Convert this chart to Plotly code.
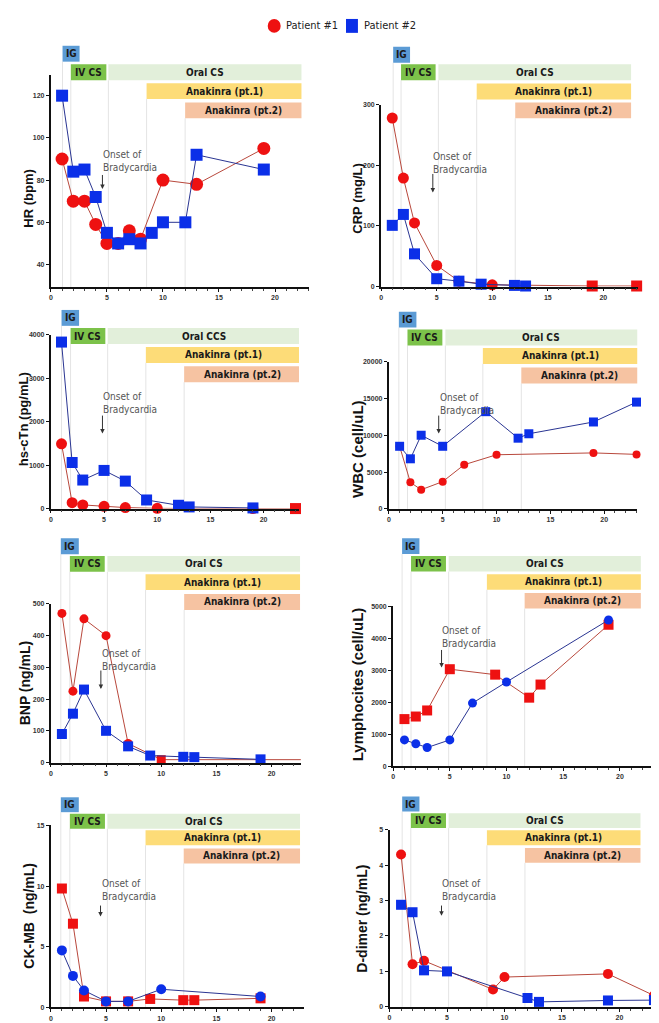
import plotly.graph_objects as go

W, H = 659, 1023

# ---------------- data ----------------
hr_p1_x = [1, 2, 3, 4, 5, 6, 7, 8, 10, 13, 19]
hr_p1_y = [90, 70, 70, 59, 50, 50, 56, 52, 80, 78, 95]
hr_p2_x = [1, 2, 3, 4, 5, 6, 7, 8, 9, 10, 12, 13, 19]
hr_p2_y = [120, 84, 85, 72, 55, 50, 52, 50, 55, 60, 60, 92, 85]

crp_p1_x = [1, 2, 3, 5, 7, 10, 19, 23]
crp_p1_y = [278, 179, 105, 35, 9, 3, 1, 1]
crp_p2_x = [1, 2, 3, 5, 7, 9, 12, 13]
crp_p2_y = [101, 119, 54, 13, 9, 4, 2, 1]

ctn_p1_x = [1, 2, 3, 5, 7, 10, 19, 23]
ctn_p1_y = [1490, 137, 84, 53, 23, 5, 2, 0]
ctn_p2_x = [1, 2, 3, 5, 7, 9, 12, 13, 19]
ctn_p2_y = [3832, 1061, 657, 878, 632, 198, 76, 38, 15]

wbc_p1_x = [1, 2, 3, 5, 7, 10, 19, 23]
wbc_p1_y = [8500, 3600, 2600, 3700, 6000, 7350, 7600, 7400]
wbc_p2_x = [1, 2, 3, 5, 9, 12, 13, 19, 23]
wbc_p2_y = [8500, 6800, 10000, 8500, 13200, 9600, 10200, 11800, 14500]

bnp_p1_x = [1, 2, 3, 5, 7, 10, 23]
bnp_p1_y = [470, 225, 453, 400, 60, 9, 9]
bnp_p2_x = [1, 2, 3, 5, 7, 9, 12, 13, 19]
bnp_p2_y = [90, 154, 230, 100, 51, 22, 18, 17, 10]

lym_p1_x = [1, 2, 3, 5, 9, 12, 13, 19]
lym_p1_y = [1470, 1550, 1740, 3030, 2860, 2140, 2550, 4420]
lym_p2_x = [1, 2, 3, 5, 7, 10, 19]
lym_p2_y = [820, 700, 580, 820, 1970, 2630, 4570]

ckmb_p1_x = [1, 2, 3, 5, 7, 9, 12, 13, 19]
ckmb_p1_y = [9.8, 6.9, 0.9, 0.5, 0.5, 0.7, 0.6, 0.6, 0.75]
ckmb_p2_x = [1, 2, 3, 5, 7, 10, 19]
ckmb_p2_y = [4.7, 2.6, 1.4, 0.5, 0.5, 1.5, 0.9]

dd_p1_x = [1, 2, 3, 9, 10, 19, 23]
dd_p1_y = [4.3, 1.2, 1.3, 0.49, 0.84, 0.93, 0.32]
dd_p2_x = [1, 2, 3, 5, 12, 13, 19, 23]
dd_p2_y = [2.88, 2.67, 1.03, 1.0, 0.25, 0.14, 0.18, 0.19]

treatments = ["IG", "IV CS", "Oral CS", "Anakinra (pt.1)", "Anakinra (pt.2)"]
series_names = ["Patient #1", "Patient #2"]
x_ticks = [0, 5, 10, 15, 20]

# ---------------- styles ----------------
RED = "#ee1111"
BLUE = "#0b2fe8"
RED_LINE = "#b8483c"
BLUE_LINE = "#2a3592"
box_colors = ["#5b9bd5", "#7cc24a", "#e2efda", "#fddc78", "#f6c3a2"]
LAB_FONT = "DejaVu Sans Condensed, Liberation Sans Narrow, Roboto, sans-serif"

panels = [
    dict(title="HR (bpm)", p1=(hr_p1_x, hr_p1_y), p2=(hr_p2_x, hr_p2_y),
         s1="circle", s2="square", ms1=13, ms2=12,
         px=(41, 300), xr=(0, 23.04), py=(63, 277), yr=(29.3, 130),
         yt=[40, 60, 80, 100, 120], ylab="Oral CS",
         box_x=[(1.04, 2.56), (1.78, 4.95), (5.13, 22.36), (8.54, 22.36), (11.98, 22.36)],
         box_py=[34, 52.7, 71.7, 91], box_h=16,
         onset=(4.51, 136, 4.6, 162.7, 178.3), tpos=(19, 187), tsize=13),
    dict(title="CRP (mg/L)", p1=(crp_p1_x, crp_p1_y), p2=(crp_p2_x, crp_p2_y),
         s1=["circle"] * 6 + ["square"] * 2, s2="square", ms1=11, ms2=11,
         px=(372.3, 630), xr=(0, 23.13), py=(93.3, 276.5), yr=(0, 300),
         yt=[0, 100, 200, 300], ylab="Oral CS",
         box_x=[(1.08, 2.6), (1.79, 4.9), (5.15, 22.5), (8.6, 22.5), (12.07, 22.5)],
         box_py=[35, 52.7, 72, 91], box_h=16,
         onset=(4.52, 138, 4.65, 161.7, 181.7), tpos=(349, 187), tsize=13),
    dict(title="hs-cTn (pg/mL)", p1=(ctn_p1_x, ctn_p1_y), p2=(ctn_p2_x, ctn_p2_y),
         s1=["circle"] * 7 + ["square"], s2="square", ms1=11, ms2=11,
         px=(41, 290), xr=(0, 23.34), py=(325, 500), yr=(0, 4000),
         yt=[0, 1000, 2000, 3000, 4000], ylab="Oral CCS",
         box_x=[(1.0, 2.65), (1.85, 5.12), (5.34, 23.5), (8.93, 23.5), (12.53, 23.5)],
         box_py=[300, 318.3, 337.3, 356.7], box_h=16,
         onset=(4.75, 380, 4.85, 405, 424.3), tpos=(13, 410), tsize=13),
    dict(title="WBC (cell/uL)", p1=(wbc_p1_x, wbc_p1_y), p2=(wbc_p2_x, wbc_p2_y),
         s1="circle", s2="square", ms1=8, ms2=9,
         px=(380, 629.3), xr=(0, 23.08), py=(352, 500.3), yr=(0, 20000),
         yt=[0, 5000, 10000, 15000, 20000], ylab="Oral CS",
         box_x=[(0.93, 2.56), (1.73, 4.97), (5.25, 23.1), (8.73, 23.1), (12.3, 23.1)],
         box_py=[301.7, 319.7, 338.3, 358], box_h=16,
         onset=(4.56, 380.5, 4.63, 405, 424.3), tpos=(349, 440), tsize=15),
    dict(title="BNP (ng/mL)", p1=(bnp_p1_x, bnp_p1_y), p2=(bnp_p2_x, bnp_p2_y),
         s1=["circle"] * 5 + ["square"] * 2, s2="square", ms1=9, ms2=10,
         px=(41, 291.7), xr=(0, 22.65), py=(596, 755.7), yr=(0, 500),
         yt=[0, 100, 200, 300, 400, 500], ylab="Oral CS",
         box_x=[(0.9, 2.53), (1.72, 4.88), (5.12, 22.58), (8.58, 22.58), (12.08, 22.58)],
         box_py=[530, 547.7, 566, 586], box_h=16,
         onset=(4.43, 638, 4.53, 661.7, 681.7), tpos=(15, 675), tsize=14),
    dict(title="Lymphocites (cell/uL)", p1=(lym_p1_x, lym_p1_y), p2=(lym_p2_x, lym_p2_y),
         s1="square", s2="circle", ms1=10, ms2=9,
         px=(384.3, 643), xr=(0, 22.75), py=(598.3, 759.3), yr=(0, 5000),
         yt=[0, 1000, 2000, 3000, 4000, 5000], ylab="Oral CS",
         box_x=[(0.79, 2.32), (1.58, 4.66), (4.9, 21.85), (8.27, 21.85), (11.6, 21.85)],
         box_py=[530, 547.7, 566, 585], box_h=15.7,
         onset=(4.17, 615.5, 4.27, 641, 660), tpos=(348, 677), tsize=15),
    dict(title="CK-MB  (ng/mL)", p1=(ckmb_p1_x, ckmb_p1_y), p2=(ckmb_p2_x, ckmb_p2_y),
         s1="square", s2="circle", ms1=10, ms2=10,
         px=(41, 295), xr=(0, 22.95), py=(819, 1002.3), yr=(0, 15),
         yt=[0, 5, 10, 15], ylab="Oral CS",
         box_x=[(0.9, 2.53), (1.72, 4.9), (5.12, 22.58), (8.58, 22.58), (12.04, 22.58)],
         box_py=[790.7, 807.3, 824, 842.3], box_h=15,
         onset=(4.43, 870, 4.5, 898.3, 910.7), tpos=(19, 910), tsize=14),
    dict(title="D-dimer (ng/mL)", p1=(dd_p1_x, dd_p1_y), p2=(dd_p2_x, dd_p2_y),
         s1="circle", s2="square", ms1=10, ms2=10,
         px=(380.7, 646.7), xr=(0, 23.07), py=(823.3, 1001.7), yr=(0, 5),
         yt=[0, 1, 2, 3, 4, 5], ylab="Oral CS",
         box_x=[(1.1, 2.6), (1.85, 4.91), (5.14, 21.83), (8.47, 21.83), (11.78, 21.83)],
         box_py=[790, 806.7, 824, 841.7], box_h=15,
         onset=(4.42, 870, 4.52, 898.3, 910), tpos=(353, 913), tsize=14),
]


def py2p(py):
    return 1 - py / H


fig = go.Figure()
shapes = []
annotations = []

for i, p in enumerate(panels):
    sfx = "" if i == 0 else str(i + 1)
    xa, ya = "x" + sfx, "y" + sfx
    fig.update_layout(**{
        "xaxis" + sfx: dict(
            domain=[p["px"][0] / W, p["px"][1] / W], range=list(p["xr"]), anchor=ya,
            showline=True, linecolor="#111", linewidth=1.5, ticks="outside",
            ticklen=3, tickcolor="#111", tickvals=x_ticks, showgrid=False,
            zeroline=False, tickfont=dict(size=7, color="#333", family="Liberation Sans", weight="bold"),
            minor=dict(dtick=1, ticks="outside", ticklen=2, tickcolor="#444"),
        ),
        "yaxis" + sfx: dict(
            domain=[py2p(p["py"][1]), py2p(p["py"][0])], range=list(p["yr"]), anchor=xa,
            showline=True, linecolor="#111", linewidth=2, ticks="outside",
            ticklen=3, tickcolor="#111", tickvals=p["yt"], tickformat="d", showgrid=False,
            zeroline=False, tickfont=dict(size=7, color="#333", family="Liberation Sans", weight="bold"),
        ),
    })

    rows = [0, 1, 1, 2, 3]
    for k, name in enumerate(treatments):
        x0, x1 = p["box_x"][k]
        top = p["box_py"][rows[k]]
        bot = top + p["box_h"]
        shapes.append(dict(type="line", xref=xa, yref="paper", x0=x0, x1=x0,
                           y0=py2p(bot), y1=py2p(p["py"][1]),
                           line=dict(color="#e4e4e4", width=1), layer="below"))
        shapes.append(dict(type="rect", xref=xa, yref="paper", x0=x0, x1=x1,
                           y0=py2p(bot), y1=py2p(top), fillcolor=box_colors[k],
                           line=dict(width=0), layer="below"))
        label = p["ylab"] if name == "Oral CS" else name
        annotations.append(dict(xref=xa, yref="paper", x=(x0 + x1) / 2, y=py2p((top + bot) / 2),
                                text=label, showarrow=False, xanchor="center", yanchor="middle",
                                font=dict(size=10, color="#1a1a1a", family=LAB_FONT, weight="bold")))

    tx, ty, axx, a0, a1 = p["onset"]
    annotations.append(dict(xref=xa, yref="paper", x=tx, y=py2p(ty), text="Onset of<br>Bradycardia",
                            showarrow=False, xanchor="left", yanchor="top", align="left",
                            font=dict(size=10, color="#555", family=LAB_FONT)))
    annotations.append(dict(xref=xa, yref="paper", x=axx, y=py2p(a1), text="",
                            showarrow=True, ax=0, ay=-(a1 - a0), arrowhead=2, arrowsize=0.9,
                            arrowwidth=1, arrowcolor="#333"))

    annotations.append(dict(xref="paper", yref="paper", x=p["tpos"][0] / W, y=py2p(p["tpos"][1]),
                            text=p["title"], textangle=-90, showarrow=False,
                            xanchor="center", yanchor="middle",
                            font=dict(size=p["tsize"], color="#111", family="Liberation Sans", weight="bold")))

    fig.add_trace(go.Scatter(x=p["p1"][0], y=p["p1"][1], xaxis=xa, yaxis=ya, mode="lines+markers",
                             name=series_names[0], showlegend=False, cliponaxis=False,
                             line=dict(color=RED_LINE, width=1),
                             marker=dict(symbol=p["s1"], size=p["ms1"], color=RED, line=dict(width=0))))
    fig.add_trace(go.Scatter(x=p["p2"][0], y=p["p2"][1], xaxis=xa, yaxis=ya, mode="lines+markers",
                             name=series_names[1], showlegend=False, cliponaxis=False,
                             line=dict(color=BLUE_LINE, width=1),
                             marker=dict(symbol=p["s2"], size=p["ms2"], color=BLUE, line=dict(width=0))))

# hand-placed legend (circle / square swatches + labels)
legend_items = [("circle", RED, 265, 6.5, 275), ("rect", BLUE, 343, 6, 353)]
for (kind, col, cx, half, tx), name in zip(legend_items, series_names):
    shapes.append(dict(type=kind, xref="paper", yref="paper",
                       x0=(cx - half) / W, x1=(cx + half) / W, y0=py2p(21), y1=py2p(7),
                       fillcolor=col, line=dict(width=0)))
    annotations.append(dict(xref="paper", yref="paper", x=tx / W, y=py2p(14), text=name,
                            showarrow=False, xanchor="left", yanchor="middle",
                            font=dict(size=11, color="#222", family=LAB_FONT)))

fig.update_layout(
    width=W, height=H, margin=dict(l=0, r=0, t=0, b=0),
    paper_bgcolor="white", plot_bgcolor="white",
    shapes=shapes, annotations=annotations,
    showlegend=False,
)

fig.write_html("out.html")
